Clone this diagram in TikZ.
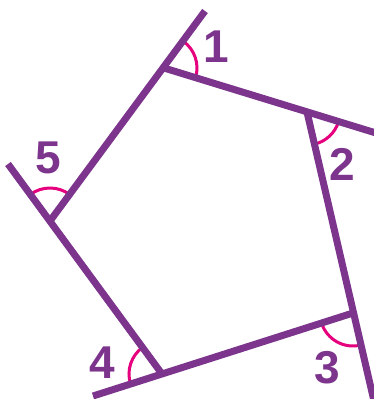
\documentclass[tikz,border=0pt]{standalone}
\usepackage{fontspec}
\setmainfont{Liberation Sans}
\usetikzlibrary{angles}
\definecolor{polypurple}{RGB}{124,52,140}
\definecolor{arcpink}{RGB}{230,0,126}

\begin{document}
\begin{tikzpicture}[x=1pt,y=-1pt,
  side/.style={polypurple,line width=7pt},
  extarc/.style={draw=arcpink,line width=3pt,angle radius=33pt},
  num/.style={text=polypurple,font=\bfseries\fontsize{46}{46}\selectfont,inner sep=0pt}]
  \useasboundingbox (0,0) rectangle (374,399);
  % corners and the free ends of the produced sides
  \coordinate (v1) at (164,68);
  \coordinate (v2) at (307,112);
  \coordinate (v3) at (353,313);
  \coordinate (v4) at (162,374);
  \coordinate (v5) at (50,221);
  \coordinate (e1) at (205,11);
  \coordinate (e2) at (376,133);
  \coordinate (e3) at (374,401);
  \coordinate (e4) at (93,396);
  \coordinate (e5) at (8,164);
  \pic[extarc] {angle = v2--v1--e1};
  \pic[extarc] {angle = v3--v2--e2};
  \pic[extarc] {angle = v4--v3--e3};
  \pic[extarc] {angle = v5--v4--e4};
  \pic[extarc] {angle = v1--v5--e5};
  \draw[side] (v5) -- (e1);
  \draw[side] (v1) -- (e2);
  \draw[side] (v2) -- (e3);
  \draw[side] (v3) -- (e4);
  \draw[side] (v4) -- (e5);
  \node[num] (n1) at (216,47) {1};
  \node[num] (n2) at (342,164) {2};
  \node[num] (n3) at (327,368) {3};
  \node[num] (n4) at (102,363) {4};
  \node[num] (n5) at (48,158) {5};
\end{tikzpicture}
\end{document}
